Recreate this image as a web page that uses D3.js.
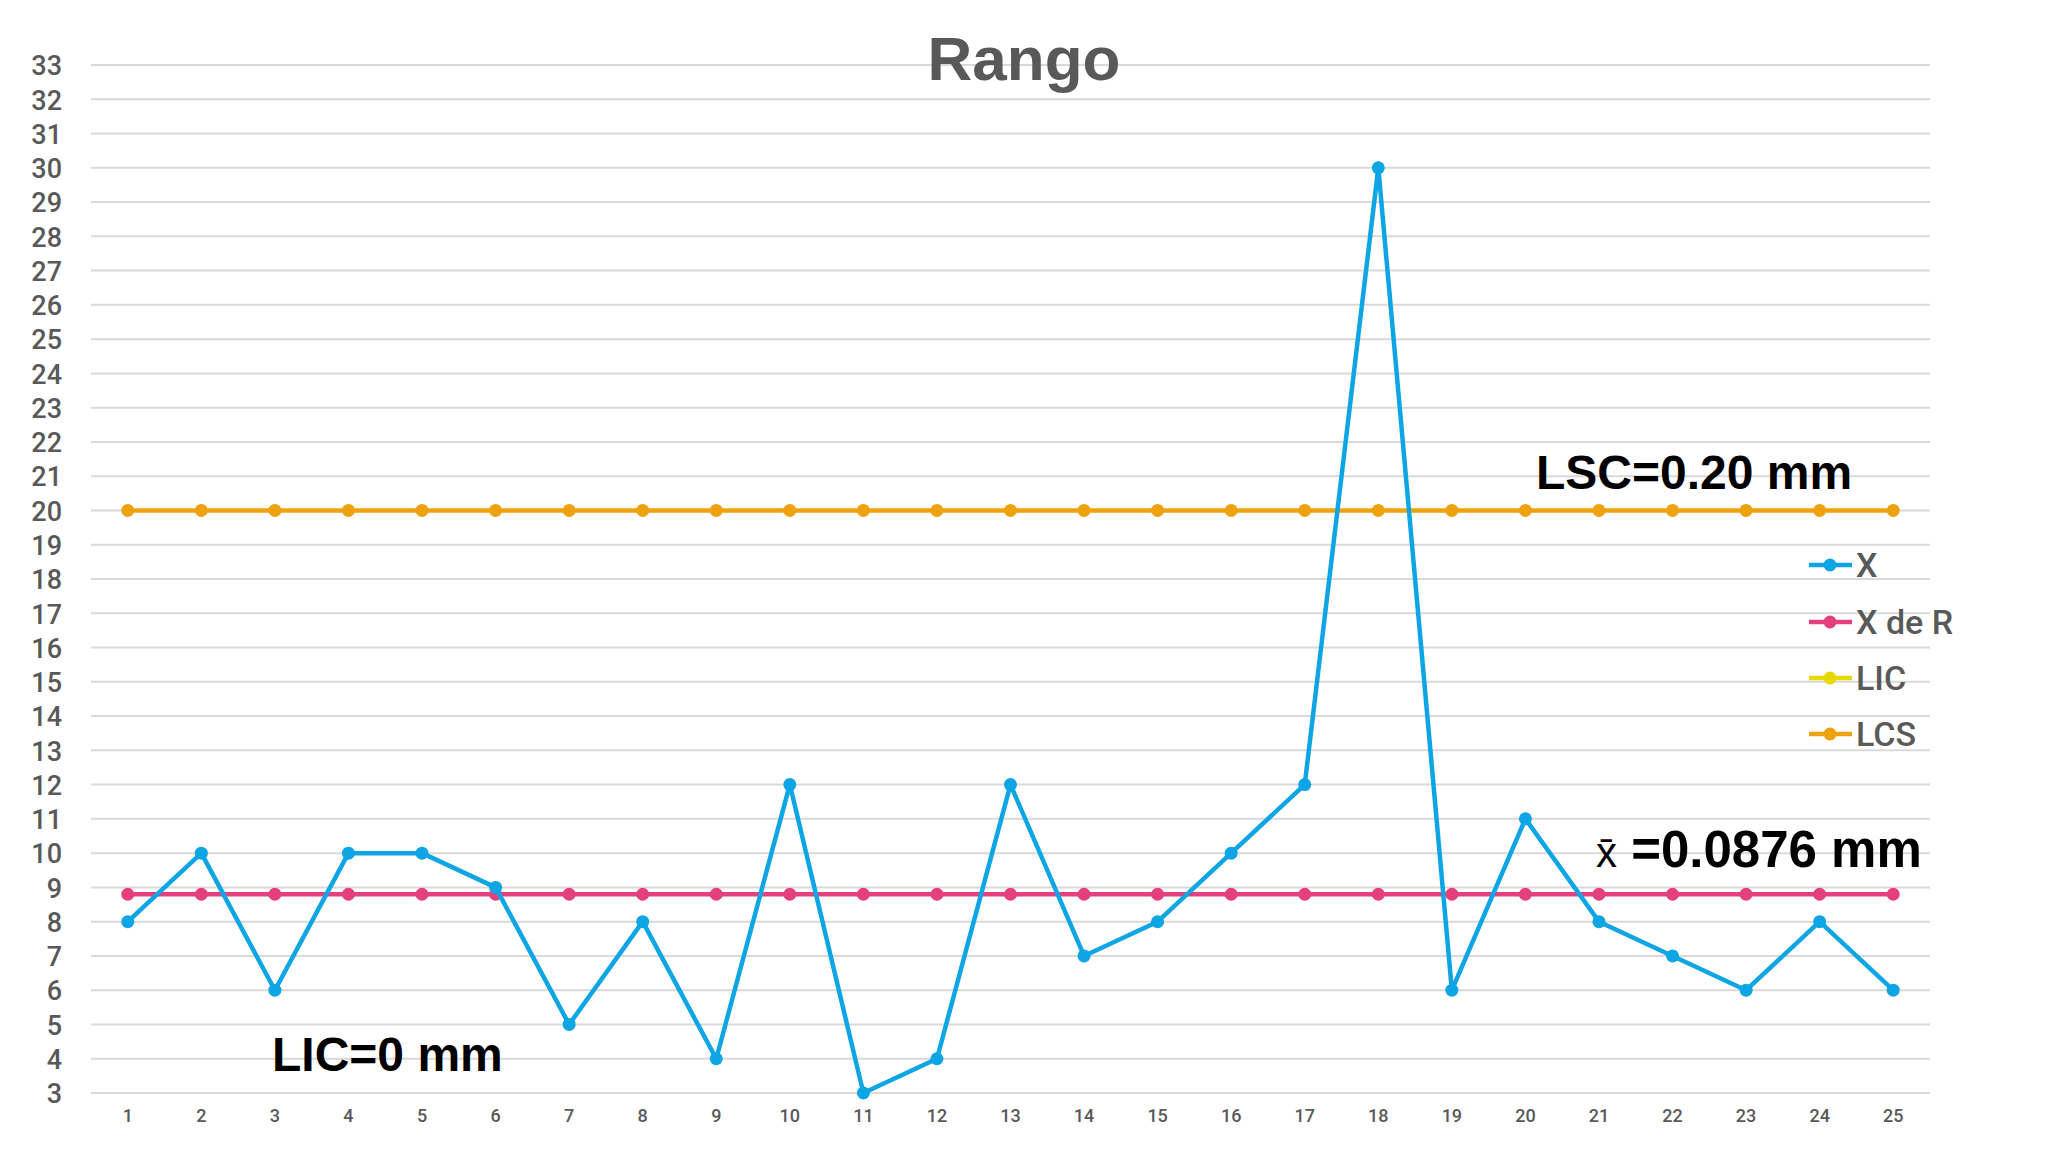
<!DOCTYPE html>
<html><head><meta charset="utf-8">
<script src="https://cdn.jsdelivr.net/npm/d3@7"></script>
<style>html,body{margin:0;padding:0;background:#fff;}</style>
</head><body><svg id="c" width="2048" height="1152"></svg>
<script>
const categories = d3.range(1, 26).map(String);
const seriesX    = [8,10,6,10,10,9,5,8,4,12,3,4,12,7,8,10,12,30,6,11,8,7,6,8,6];
const seriesXdeR = Array(25).fill(8.8);
const seriesLIC  = Array(25).fill(0);
const seriesLCS  = Array(25).fill(20);
const yTicks = d3.range(3, 34);
const seriesNames = ["X", "X de R", "LIC", "LCS"];
const colors = ["#0ea5e4", "#e5407e", "#e6d800", "#eea20f"];

const svg = d3.select("#c");
const W = 2048, H = 1152;
const x = d3.scaleBand().domain(categories).range([91, 1930]);
const y = d3.scaleLinear().domain([3, 33]).range([1093, 65]);
const cx = d => x(d) + x.bandwidth() / 2;

svg.append("rect").attr("width", W).attr("height", H).attr("fill", "#fff");

// grid
svg.append("g").selectAll("line").data(yTicks).join("line")
  .attr("x1", 91).attr("x2", 1930)
  .attr("y1", d => y(d)).attr("y2", d => y(d))
  .attr("stroke", "#d9d9d9").attr("stroke-width", 2);

// y axis labels
const yAxis = d3.axisLeft(y).tickValues(yTicks).tickSize(0).tickPadding(0).tickFormat(d3.format("d"));
const gy = svg.append("g").attr("transform", "translate(62,0)").call(yAxis);
gy.select(".domain").remove();
gy.selectAll("text").attr("font-family", "Roboto, Liberation Sans, sans-serif").attr("font-weight", 500)
  .attr("font-size", 27).attr("fill", "#595959").attr("dy", "0.36em");

// x axis labels
const xAxis = d3.axisBottom(x).tickSize(0).tickPadding(0);
const gx = svg.append("g").attr("transform", "translate(0,1106)").call(xAxis);
gx.select(".domain").remove();
gx.selectAll("text").attr("font-family", "Roboto, Liberation Sans, sans-serif").attr("font-weight", 500)
  .attr("font-size", 18).attr("fill", "#595959").attr("dy", "0.9em");

// clip
svg.append("clipPath").attr("id", "clip").append("rect").attr("x", 0).attr("y", 40).attr("width", W).attr("height", 1093 - 40 + 8);

const all = [seriesX, seriesXdeR, seriesLIC, seriesLCS];
const line = d3.line().x((d, i) => cx(categories[i])).y(d => y(d));
const plot = svg.append("g").attr("clip-path", "url(#clip)");
[3, 2, 1, 0].forEach(k => {
  const data = all[k];
  const g = plot.append("g");
  g.append("path").datum(data).attr("d", line).attr("fill", "none")
    .attr("stroke", colors[k]).attr("stroke-width", 4.5).attr("stroke-linejoin", "round");
  g.selectAll("circle").data(data).join("circle")
    .attr("cx", (d, i) => cx(categories[i])).attr("cy", d => y(d)).attr("r", 6.5)
    .attr("fill", colors[k]);
});

// title
svg.append("text").attr("x", 1024).attr("y", 80).attr("text-anchor", "middle")
  .attr("font-family", "Liberation Sans, Arial, sans-serif").attr("font-weight", "bold")
  .attr("font-size", 62).attr("fill", "#595959").text("Rango");

// annotations
const ann = svg.append("g").attr("font-family", "Liberation Sans, Arial, sans-serif").attr("fill", "#000");
ann.append("text").attr("x", 1536).attr("y", 489).attr("font-size", 48).attr("font-weight", "bold").text("LSC=0.20 mm");
const t2 = ann.append("text").attr("x", 1596).attr("y", 867).attr("font-size", 51);
t2.append("tspan").attr("font-size", 42).text("x\u0304");
t2.append("tspan").attr("font-weight", "bold").text(" =0.0876 mm");
ann.append("text").attr("x", 272).attr("y", 1071).attr("font-size", 48).attr("font-weight", "bold").text("LIC=0 mm");

// legend
const legY = [565, 622, 678, 734];
const leg = svg.append("g");
seriesNames.forEach((n, k) => {
  const g = leg.append("g").attr("transform", `translate(0,${legY[k]})`);
  g.append("line").attr("x1", 1809).attr("x2", 1852).attr("stroke", colors[k]).attr("stroke-width", 4.5);
  g.append("circle").attr("cx", 1830).attr("r", 6.5).attr("fill", colors[k]);
  g.append("text").attr("x", 1856).attr("dy", "0.36em").attr("font-family", "Roboto, Liberation Sans, sans-serif")
    .attr("font-weight", 500).attr("font-size", 34).attr("fill", "#595959").text(n);
});
</script></body></html>
